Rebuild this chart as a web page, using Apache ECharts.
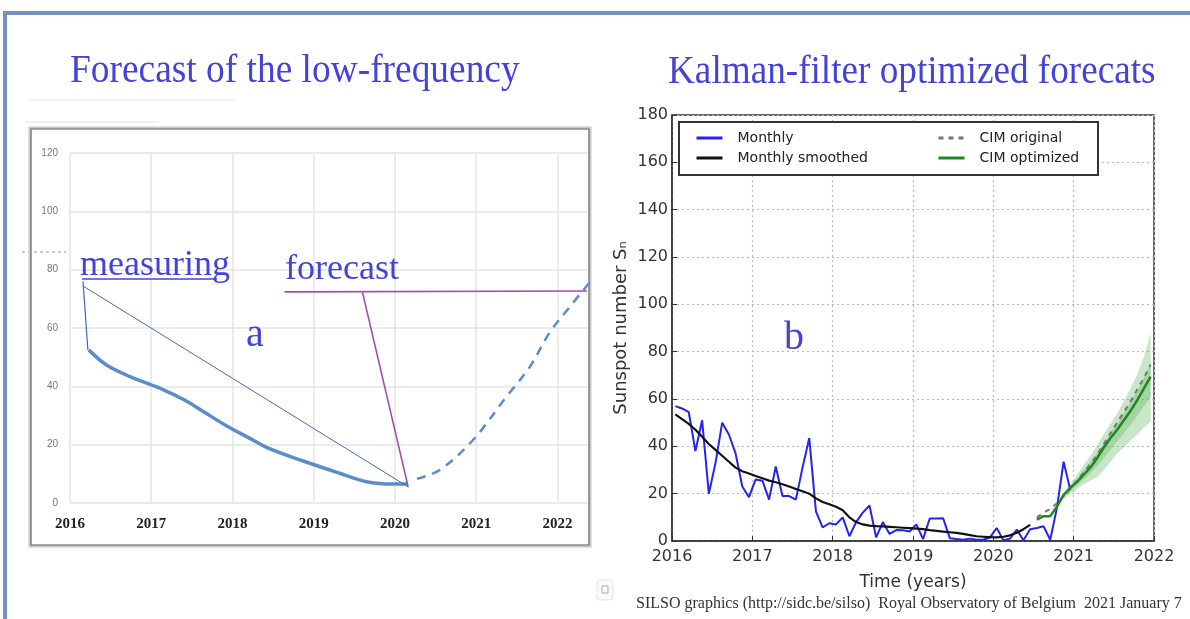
<!DOCTYPE html>
<html>
<head>
<meta charset="utf-8">
<script src="https://cdn.jsdelivr.net/npm/echarts@6/dist/echarts.min.js"></script>
<style>
html,body{margin:0;padding:0;background:#fff;}
#chart{width:1190px;height:619px;}
</style>
</head>
<body>
<div id="chart"></div>
<script>
// ---------- Panel a : low-frequency forecast ----------
const leftYears = [2016, 2017, 2018, 2019, 2020, 2021, 2022];
const leftMeasuredX = [2016.23, 2016.45, 2016.74, 2017.15, 2017.41, 2017.66, 2017.93, 2018.19, 2018.44, 2018.87, 2019.32, 2019.65, 2019.98, 2020.16];
const leftMeasuredY = [52.5, 47.3, 43.3, 38.8, 35.3, 31.0, 26.4, 22.5, 18.8, 14.4, 10.2, 7.3, 6.5, 6.6];
const leftForecastX = [2020.27, 2020.55, 2020.96, 2021.37, 2021.66, 2021.90, 2022.15, 2022.40];
const leftForecastY = [8.3, 11.3, 21.6, 36.4, 46.7, 58.3, 67.2, 75.8];
// annotation pointer lines (in panel-a data units)
const measureUnderline = [[2016.15, 76.8], [2017.81, 76.8]];
const measureDrop = [[2016.16, 76.0], [2016.22, 52.5]];
const measureDiag = [[2016.16, 74.4], [2020.17, 5.4]];
const forecastUnderline = [[2018.64, 72.4], [2022.36, 72.7]];
const forecastDrop = [[2019.60, 72.2], [2020.16, 5.8]];

// ---------- Panel b : SILSO monthly sunspot number ----------
const monthly2016 = [57, 56, 54.5, 38, 51, 20, 33, 50, 45, 37, 23, 18.5];
const monthly2017 = [26, 25.5, 17.5, 31.5, 19, 19, 17.5, 31, 43.5, 12.5, 5.8, 7.5];
const monthly2018 = [7, 10, 2, 8, 12, 15, 1.5, 8, 3, 4.6, 4.5, 4];
const monthly2019 = [7, 0.8, 9.5, 9.5, 9.6, 1.2, 0.8, 0.5, 1, 0.5, 0.5, 1.5];
const monthly2020 = [5.5, 0.3, 1.0, 4.8, 0.3, 5.0, 5.5, 6.2, 0.5, 14, 33.5, 21.5];
const smoothed = [53.5, 51.5, 49.5, 47, 44, 41, 38.5, 36, 33.5, 31, 29.5, 28.5,
                  27.5, 26.5, 25.5, 24.8, 24, 23, 22, 21, 20, 18, 16.5, 15.5,
                  14.5, 13, 10, 8, 7, 6.5, 6.3, 6.2, 6, 5.8, 5.6, 5.4,
                  5.2, 5, 4.6, 4.3, 4, 3.7, 3.4, 3, 2.5, 2, 1.8, 1.6,
                  1.5, 1.8, 2.4, 3.5, 5, 6.8];
// CIM forecasts Jul 2020 .. Dec 2021
const cimOriginal = [10, 12, 13.5, 16, 19, 22, 25.5, 29, 32.5, 36.5, 41, 45.5, 50, 54.5, 59, 64, 69, 74.5];
const cimOptimized = [9, 10.5, 10.5, 14.5, 19.5, 22.5, 25, 28, 31, 35, 39.5, 43.5, 47, 51, 55, 59.5, 64.5, 69.5];
// uncertainty bands Nov 2020 .. Dec 2021
const bandUpper = [20, 24, 28, 32, 36, 40.5, 45, 49.5, 54, 59, 64.5, 70.5, 78, 88];
const bandLower = [18, 20, 22, 24, 25.5, 27, 30, 33.5, 37, 39.5, 42.5, 45, 48, 50.5];
const innerUpper = [19.5, 23, 26.5, 30, 33.5, 37, 41, 45.5, 49.5, 54, 58.5, 63.5, 69, 76];
const innerLower = [18.5, 21, 23.5, 26, 28.5, 31.5, 35, 38.5, 42, 45.5, 49, 53, 57, 61];
const rightYears = [2016, 2017, 2018, 2019, 2020, 2021, 2022];

// month-centre time for month index i counted from Jan 2016
function monthTime(i) { return 2016 + (i + 0.5) / 12; }
function pairs(xs, ys) { return xs.map((x, i) => [x, ys[i]]); }

const monthlyAll = [].concat(monthly2016, monthly2017, monthly2018, monthly2019, monthly2020);
const monthlyData = monthlyAll.map((v, i) => [monthTime(i), v]);
const smoothedData = smoothed.map((v, i) => [monthTime(i), v]);
const cimStart = 54; // Jul 2020
const cimOrigData = cimOriginal.map((v, i) => [monthTime(cimStart + i), v]);
const cimOptData = cimOptimized.map((v, i) => [monthTime(cimStart + i), v]);
const bandStart = 58; // Nov 2020
const bandX = bandUpper.map((v, i) => monthTime(bandStart + i));

function bandSeries(upper, lower, fill) {
  return {
    type: 'custom', xAxisIndex: 1, yAxisIndex: 1, silent: true, z: 1,
    data: [[2021, 40]],
    renderItem: function (params, api) {
      const pts = [];
      for (let i = 0; i < bandX.length; i++) pts.push(api.coord([bandX[i], upper[i]]));
      for (let i = bandX.length - 1; i >= 0; i--) pts.push(api.coord([bandX[i], lower[i]]));
      return { type: 'polygon', shape: { points: pts }, style: { fill: fill } };
    }
  };
}

const blueText = '#4343d6';
const serif = '"Liberation Serif", "DejaVu Serif", serif';

const chart = echarts.init(document.getElementById('chart'), null, { renderer: 'canvas' });

const legendCommon = {
  orient: 'vertical', top: 126, itemWidth: 26, itemHeight: 12, itemGap: 6, z: 10,
  itemStyle: { opacity: 0 },
  lineStyle: { width: 3 },
  textStyle: { color: '#222', fontFamily: 'DejaVu Sans', fontSize: 14, padding: [0, 0, 0, 10] }
};

const option = {
  backgroundColor: '#ffffff',
  animation: false,
  grid: [
    { left: 70, right: 600, top: 153, bottom: 116, show: false },
    { left: 672, right: 36, top: 115, bottom: 78, show: true, borderColor: '#333', borderWidth: 1.5, backgroundColor: 'transparent' }
  ],
  xAxis: [
    {
      gridIndex: 0, type: 'value', min: 2016, max: 2022.4, interval: 1,
      axisLine: { show: false }, axisTick: { show: false },
      splitLine: { show: true, lineStyle: { color: '#e4e4e4', width: 1.5 } },
      axisLabel: {
        margin: 14, color: '#222', fontFamily: serif, fontSize: 15, fontWeight: 'bold',
        formatter: v => (Number.isInteger(v) && leftYears.includes(v)) ? String(v) : ''
      }
    },
    {
      gridIndex: 1, type: 'value', min: 2016, max: 2022, interval: 1,
      axisLine: { show: true, lineStyle: { color: '#333', width: 1.5 } },
      axisTick: { show: true, inside: true, length: 5, lineStyle: { color: '#333' } },
      splitLine: { show: true, lineStyle: { color: '#bbb', type: [2, 3], width: 1.2 } },
      axisLabel: { margin: 8, color: '#333', fontFamily: 'DejaVu Sans', fontSize: 16,
        formatter: v => rightYears.includes(v) ? String(v) : '' },
      name: 'Time (years)', nameLocation: 'middle', nameGap: 33,
      nameTextStyle: { color: '#333', fontFamily: 'DejaVu Sans', fontSize: 17 }
    }
  ],
  yAxis: [
    {
      gridIndex: 0, type: 'value', min: 0, max: 120, interval: 20,
      axisLine: { show: false }, axisTick: { show: false },
      splitLine: { show: true, lineStyle: { color: '#e4e4e4', width: 1.5 } },
      axisLabel: { margin: 12, color: '#777', fontFamily: 'Liberation Sans', fontSize: 10 }
    },
    {
      gridIndex: 1, type: 'value', min: 0, max: 180, interval: 20,
      axisLine: { show: true, lineStyle: { color: '#333', width: 1.5 } },
      axisTick: { show: true, inside: true, length: 5, lineStyle: { color: '#333' } },
      splitLine: { show: true, lineStyle: { color: '#bbb', type: [2, 3], width: 1.2 } },
      axisLabel: { margin: 4, color: '#333', fontFamily: 'DejaVu Sans', fontSize: 16 },
      name: 'Sunspot number S\u2099', nameLocation: 'middle', nameGap: 42, nameRotate: 90,
      nameTextStyle: { color: '#333', fontFamily: 'DejaVu Sans', fontSize: 18 }
    }
  ],
  legend: [
    Object.assign({ data: ['Monthly', 'Monthly smoothed'], left: 690 }, legendCommon),
    Object.assign({ data: ['CIM original', 'CIM optimized'], left: 932 }, legendCommon)
  ],
  graphic: [
    // outer slide frame
    { type: 'rect', shape: { x: 3, y: 11, width: 1190, height: 4 }, style: { fill: '#7293c2' }, z: 50 },
    { type: 'rect', shape: { x: 3, y: 11, width: 4, height: 620 }, style: { fill: '#7293c2' }, z: 50 },
    // faint remnants of an underlying table
    { type: 'line', shape: { x1: 30, y1: 100, x2: 235, y2: 100 }, style: { stroke: '#eeeeee', lineWidth: 1.5 }, z: 0 },
    { type: 'line', shape: { x1: 25, y1: 122, x2: 158, y2: 122 }, style: { stroke: '#eeeeee', lineWidth: 1.5 }, z: 0 },
    { type: 'line', shape: { x1: 22, y1: 252, x2: 66, y2: 252 }, style: { stroke: '#999', lineWidth: 1, lineDash: [3, 3] }, z: 0 },
    // small icon bottom-left of panel b
    { type: 'rect', shape: { x: 597, y: 580, width: 16, height: 20, r: 3 }, style: { fill: '#fafafa', stroke: '#e6e6e6', lineWidth: 1 }, z: 0 },
    { type: 'rect', shape: { x: 602, y: 586, width: 6, height: 7 }, style: { fill: 'none', stroke: '#aaa', lineWidth: 1 }, z: 0 },
    // panel a frame
    { type: 'rect', shape: { x: 30, y: 128, width: 560, height: 418 }, style: { fill: 'none', stroke: '#c8c8c8', lineWidth: 3 }, z: 2 },
    { type: 'rect', shape: { x: 31, y: 129, width: 558, height: 416 }, style: { fill: 'none', stroke: '#6f6f6f', lineWidth: 1.2 }, z: 2 },
    // legend box panel b
    { type: 'rect', shape: { x: 679, y: 122, width: 419, height: 53 }, style: { fill: '#fff', stroke: '#333', lineWidth: 2 }, z: 5 },
    // titles
    { type: 'text', x: 70, y: 71, scaleX: 0.935, z: 20,
      style: { text: 'Forecast of the low-frequency', font: '40px ' + serif, fill: blueText, textVerticalAlign: 'middle' } },
    { type: 'text', x: 668, y: 72, scaleX: 0.93, z: 20,
      style: { text: 'Kalman-filter optimized forecats', font: '40px ' + serif, fill: blueText, textVerticalAlign: 'middle' } },
    // panel annotations
    { type: 'text', x: 80, y: 266, z: 20,
      style: { text: 'measuring', font: '36px ' + serif, fill: blueText, textVerticalAlign: 'middle' } },
    { type: 'text', x: 285, y: 270, z: 20,
      style: { text: 'forecast', font: '36px ' + serif, fill: blueText, textVerticalAlign: 'middle' } },
    { type: 'text', x: 246, y: 335, z: 20,
      style: { text: 'a', font: '40px ' + serif, fill: blueText, textVerticalAlign: 'middle' } },
    { type: 'text', x: 784, y: 338, z: 20,
      style: { text: 'b', font: '40px ' + serif, fill: blueText, textVerticalAlign: 'middle' } },
    // footer credit
    { type: 'text', x: 636, y: 604, z: 20,
      style: { text: 'SILSO graphics (http://sidc.be/silso)  Royal Observatory of Belgium  2021 January 7', font: '16px ' + serif, fill: '#333', textVerticalAlign: 'middle' } }
  ],
  series: [
    // ----- panel a -----
    { type: 'line', xAxisIndex: 0, yAxisIndex: 0, data: pairs(leftMeasuredX, leftMeasuredY), smooth: 0.35,
      symbol: 'none', lineStyle: { color: '#5b8dcc', width: 3.5 }, z: 3 },
    { type: 'line', xAxisIndex: 0, yAxisIndex: 0, data: pairs(leftForecastX, leftForecastY), smooth: 0.35,
      symbol: 'none', lineStyle: { color: '#5b8dcc', width: 2.5, type: [9, 7] }, z: 3 },
    { type: 'line', xAxisIndex: 0, yAxisIndex: 0, data: measureUnderline, symbol: 'none', lineStyle: { color: blueText, width: 1.5 }, z: 4 },
    { type: 'line', xAxisIndex: 0, yAxisIndex: 0, data: measureDrop, symbol: 'none', lineStyle: { color: '#3f6db3', width: 1.2 }, z: 4 },
    { type: 'line', xAxisIndex: 0, yAxisIndex: 0, data: measureDiag, symbol: 'none', lineStyle: { color: '#3f6db3', width: 1 }, z: 4 },
    { type: 'line', xAxisIndex: 0, yAxisIndex: 0, data: forecastUnderline, symbol: 'none', lineStyle: { color: '#a64aae', width: 1.6 }, z: 4 },
    { type: 'line', xAxisIndex: 0, yAxisIndex: 0, data: forecastDrop, symbol: 'none', lineStyle: { color: '#a64aae', width: 1.6 }, z: 4 },
    // ----- panel b -----
    bandSeries(bandUpper, bandLower, 'rgba(90,180,90,0.33)'),
    bandSeries(innerUpper, innerLower, 'rgba(70,160,70,0.28)'),
    { name: 'Monthly', type: 'line', xAxisIndex: 1, yAxisIndex: 1, data: monthlyData, symbol: 'none',
      lineStyle: { color: '#2424ee', width: 2 }, itemStyle: { color: '#2424ee' }, z: 3 },
    { name: 'Monthly smoothed', type: 'line', xAxisIndex: 1, yAxisIndex: 1, data: smoothedData, symbol: 'none',
      lineStyle: { color: '#111', width: 2.2 }, itemStyle: { color: '#111' }, z: 4 },
    { name: 'CIM original', type: 'line', xAxisIndex: 1, yAxisIndex: 1, data: cimOrigData, symbol: 'none',
      lineStyle: { color: '#777', width: 2, type: [5, 5] }, itemStyle: { color: '#777' }, z: 4 },
    { name: 'CIM optimized', type: 'line', xAxisIndex: 1, yAxisIndex: 1, data: cimOptData, symbol: 'none',
      lineStyle: { color: '#1b8a1b', width: 2.5 }, itemStyle: { color: '#1b8a1b' }, z: 5 }
  ]
};
chart.setOption(option);
</script>
</body>
</html>
